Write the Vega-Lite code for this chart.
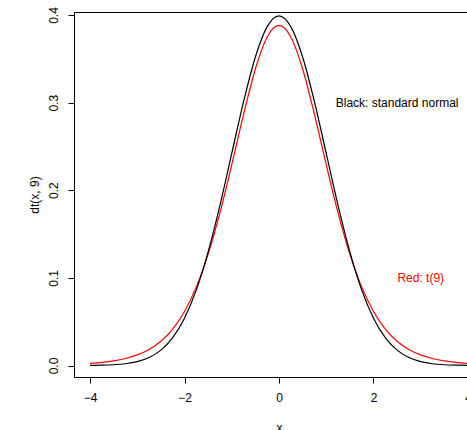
{
  "$schema": "https://vega.github.io/schema/vega-lite/v6.json",
  "autosize": "none",
  "padding": {"left": 74, "top": 12, "right": 0, "bottom": 53},
  "width": 410,
  "height": 365,
  "background": "white",
  "config": {
    "view": {"stroke": "black", "strokeWidth": 1},
    "font": "Liberation Sans"
  },
  "datasets": {
    "curves": [
      {"x": -4, "normal": 0.00013, "t9": 0.00235},
      {"x": -3.75, "normal": 0.00035, "t9": 0.00351},
      {"x": -3.5, "normal": 0.00087, "t9": 0.00529},
      {"x": -3.25, "normal": 0.00203, "t9": 0.0080},
      {"x": -3, "normal": 0.00443, "t9": 0.01213},
      {"x": -2.75, "normal": 0.00909, "t9": 0.01838},
      {"x": -2.5, "normal": 0.01753, "t9": 0.02778},
      {"x": -2.25, "normal": 0.03174, "t9": 0.04166},
      {"x": -2, "normal": 0.05399, "t9": 0.06171},
      {"x": -1.75, "normal": 0.08628, "t9": 0.08972},
      {"x": -1.5, "normal": 0.12952, "t9": 0.12715},
      {"x": -1.25, "normal": 0.18265, "t9": 0.17428},
      {"x": -1, "normal": 0.24197, "t9": 0.22913},
      {"x": -0.75, "normal": 0.30114, "t9": 0.28657},
      {"x": -0.5, "normal": 0.35207, "t9": 0.33836},
      {"x": -0.25, "normal": 0.38667, "t9": 0.37483},
      {"x": 0, "normal": 0.39894, "t9": 0.38803},
      {"x": 0.25, "normal": 0.38667, "t9": 0.37483},
      {"x": 0.5, "normal": 0.35207, "t9": 0.33836},
      {"x": 0.75, "normal": 0.30114, "t9": 0.28657},
      {"x": 1, "normal": 0.24197, "t9": 0.22913},
      {"x": 1.25, "normal": 0.18265, "t9": 0.17428},
      {"x": 1.5, "normal": 0.12952, "t9": 0.12715},
      {"x": 1.75, "normal": 0.08628, "t9": 0.08972},
      {"x": 2, "normal": 0.05399, "t9": 0.06171},
      {"x": 2.25, "normal": 0.03174, "t9": 0.04166},
      {"x": 2.5, "normal": 0.01753, "t9": 0.02778},
      {"x": 2.75, "normal": 0.00909, "t9": 0.01838},
      {"x": 3, "normal": 0.00443, "t9": 0.01213},
      {"x": 3.25, "normal": 0.00203, "t9": 0.0080},
      {"x": 3.5, "normal": 0.00087, "t9": 0.00529},
      {"x": 3.75, "normal": 0.00035, "t9": 0.00351},
      {"x": 4, "normal": 0.00013, "t9": 0.00235}
    ],
    "labels": [
      {"x": 2.5, "y": 0.3, "label": "Black: standard normal", "dist": "normal"},
      {"x": 3, "y": 0.1, "label": "Red: t(9)", "dist": "t9"}
    ]
  },
  "encoding": {
    "x": {
      "type": "quantitative",
      "scale": {"domain": [-4.339, 4.339], "nice": false, "zero": false},
      "axis": {
        "title": "x",
        "values": [-4, -2, 0, 2, 4],
        "format": "d",
        "grid": false,
        "domain": false,
        "tickColor": "black",
        "tickSize": 6,
        "labelFont": "Liberation Sans",
        "labelFontSize": 12,
        "labelColor": "black",
        "labelPadding": 9,
        "titleFont": "Liberation Sans",
        "titleFontSize": 12,
        "titleFontWeight": "normal",
        "titleColor": "black",
        "titleBaseline": "middle",
        "titleY": 50
      }
    },
    "y": {
      "type": "quantitative",
      "scale": {"domain": [-0.0131, 0.4034], "nice": false, "zero": false},
      "axis": {
        "title": "dt(x, 9)",
        "values": [0, 0.1, 0.2, 0.3, 0.4],
        "format": ".1f",
        "grid": false,
        "domain": false,
        "tickColor": "black",
        "tickSize": 6,
        "labelFont": "Liberation Sans",
        "labelFontSize": 12,
        "labelColor": "black",
        "labelAngle": -90,
        "labelAlign": "center",
        "labelBaseline": "middle",
        "labelPadding": 15,
        "titleFont": "Liberation Sans",
        "titleFontSize": 12,
        "titleFontWeight": "normal",
        "titleColor": "black",
        "titleAngle": -90,
        "titleAlign": "center",
        "titleBaseline": "middle",
        "titleX": -40,
        "titleY": 182.5
      }
    }
  },
  "layer": [
    {
      "data": {"name": "curves"},
      "mark": {"type": "line", "color": "red", "strokeWidth": 1.2, "interpolate": "monotone"},
      "encoding": {"x": {"field": "x"}, "y": {"field": "t9"}}
    },
    {
      "data": {"name": "curves"},
      "mark": {"type": "line", "color": "black", "strokeWidth": 1.2, "interpolate": "monotone"},
      "encoding": {"x": {"field": "x"}, "y": {"field": "normal"}}
    },
    {
      "data": {"name": "labels"},
      "transform": [{"filter": "datum.dist === 'normal'"}],
      "mark": {"type": "text", "color": "black", "font": "Liberation Sans", "fontSize": 12, "align": "center", "baseline": "middle"},
      "encoding": {"x": {"field": "x"}, "y": {"field": "y"}, "text": {"field": "label"}}
    },
    {
      "data": {"name": "labels"},
      "transform": [{"filter": "datum.dist === 't9'"}],
      "mark": {"type": "text", "color": "red", "font": "Liberation Sans", "fontSize": 12, "align": "center", "baseline": "middle"},
      "encoding": {"x": {"field": "x"}, "y": {"field": "y"}, "text": {"field": "label"}}
    }
  ]
}
